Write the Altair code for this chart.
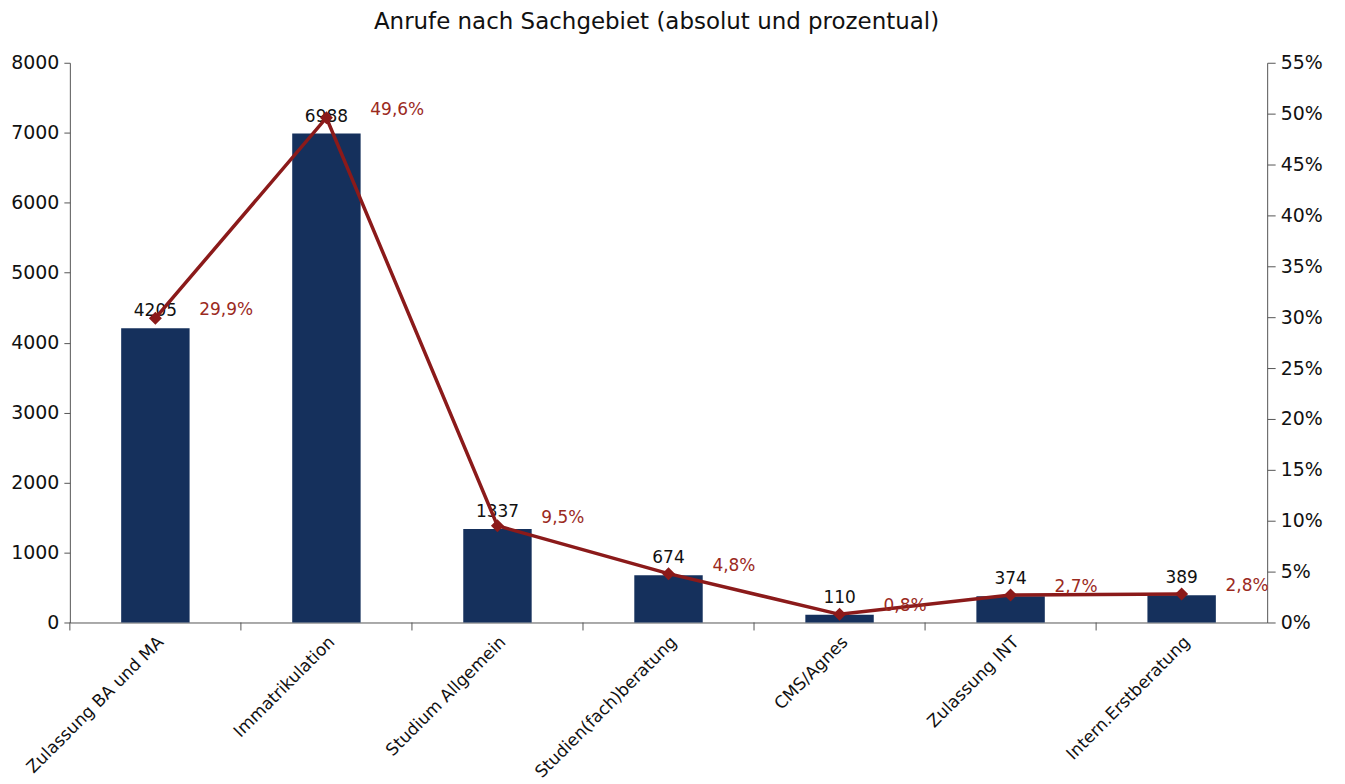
import altair as alt
import pandas as pd

categories = ["Zulassung BA und MA", "Immatrikulation", "Studium Allgemein",
              "Studien(fach)beratung", "CMS/Agnes", "Zulassung INT", "Intern.Erstberatung"]
calls = [4205, 6988, 1337, 674, 110, 374, 389]
percent = [29.9, 49.6, 9.5, 4.8, 0.8, 2.7, 2.8]

df = pd.DataFrame({
    "cat": categories,
    "calls": calls,
    "pct": [p / 100 for p in percent],
    "pct_label": [f"{p:.1f}%".replace(".", ",") for p in percent],
})

FONT = "DejaVu Sans"
NAVY = "#15305c"
RED = "#8b1a1a"
W, H = 1200, 561

xenc = alt.X("cat:N", sort=categories, title=None,
             scale=alt.Scale(paddingInner=0, paddingOuter=0),
             axis=alt.Axis(labelAngle=-45, ticks=False, labelFontSize=17,
                           labelFont=FONT, labelColor="#111", domainColor="#555",
                           labelPadding=11, labelLimit=0))

base = alt.Chart(df)

bars = base.mark_bar(color=NAVY, width=alt.RelativeBandSize(0.4)).encode(
    x=xenc,
    y=alt.Y("calls:Q", title=None,
            scale=alt.Scale(domain=[0, 8000]),
            axis=alt.Axis(values=list(range(0, 8001, 1000)), grid=False, format="d",
                          labelFontSize=19, labelFont=FONT, labelColor="#111",
                          domainColor="#555", tickColor="#555", tickSize=6,
                          labelPadding=5)),
)
bar_text = base.mark_text(fontSize=17, font=FONT, color="#111", baseline="bottom", dy=-8).encode(
    x=alt.X("cat:N", sort=categories),
    y=alt.Y("calls:Q"),
    text=alt.Text("calls:Q"),
)
xticks = base.mark_rule(color="#555").encode(
    x=alt.X("cat:N", sort=categories, bandPosition=0),
    y=alt.value(H),
    y2=alt.value(H + 8),
)
left = alt.layer(bars, bar_text, xticks)

yr = alt.Y("pct:Q", title=None,
           scale=alt.Scale(domain=[0, 0.55]),
           axis=alt.Axis(orient="right", format=".0%",
                         values=[i * 0.05 for i in range(12)], grid=False,
                         labelFontSize=19, labelFont=FONT, labelColor="#111",
                         domainColor="#555", tickColor="#555", tickSize=8,
                         labelPadding=5))

line = base.mark_line(color=RED, strokeWidth=3.5).encode(
    x=alt.X("cat:N", sort=categories), y=yr)
pts = base.mark_point(shape="diamond", filled=True, color=RED, size=170, opacity=1).encode(
    x=alt.X("cat:N", sort=categories), y=alt.Y("pct:Q"))
pct_text = base.mark_text(fontSize=17, font=FONT, color="#9b2a1e", align="left", dx=44, dy=-8).encode(
    x=alt.X("cat:N", sort=categories), y=alt.Y("pct:Q"), text="pct_label:N")
right = alt.layer(line, pts, pct_text)

chart = alt.layer(left, right).resolve_scale(y="independent").properties(
    width=W, height=H,
    title=alt.TitleParams("Anrufe nach Sachgebiet (absolut und prozentual)",
                          font=FONT, fontSize=23, fontWeight="normal", color="#111",
                          offset=20, dx=-12),
    autosize=alt.AutoSizeParams(type="none"),
    padding={"left": 62, "top": 54, "right": 70, "bottom": 160},
).configure_view(stroke=None)

chart.save("out.html", embed_options={"renderer": "svg", "actions": False})
